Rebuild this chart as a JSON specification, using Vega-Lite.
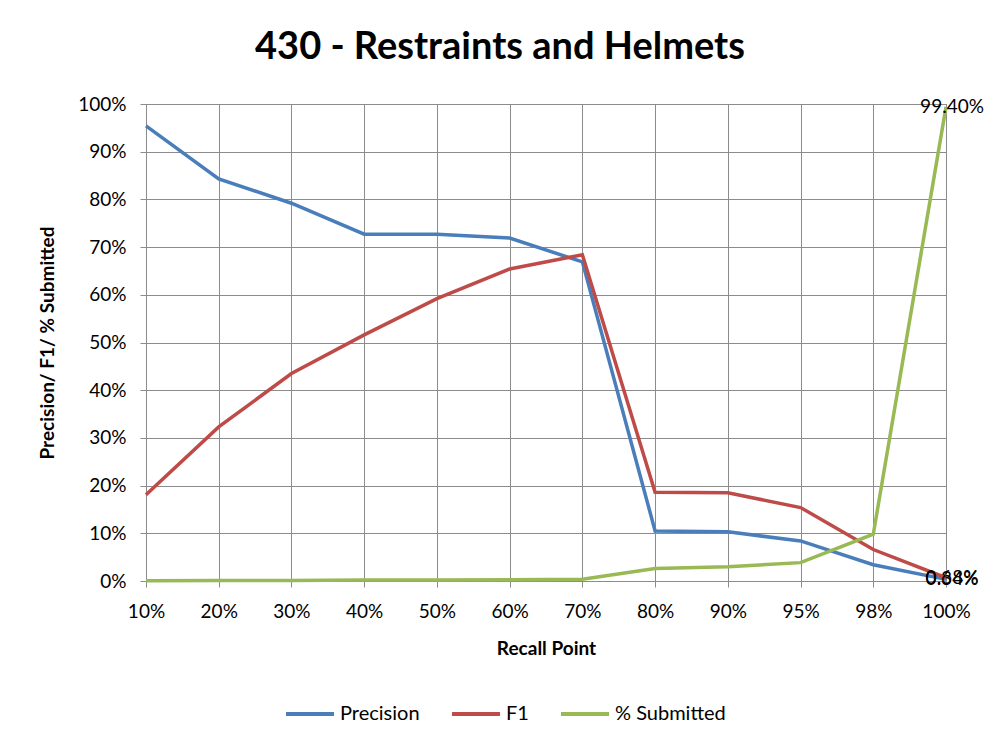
{
  "$schema": "https://vega.github.io/schema/vega-lite/v6.json",
  "autosize": "none",
  "width": 800,
  "height": 477,
  "padding": {"left": 146, "top": 104, "right": 52, "bottom": 164},
  "background": "white",
  "title": {
    "text": "430 - Restraints and Helmets",
    "font": "Lato",
    "fontSize": 38,
    "fontWeight": "bold",
    "color": "black",
    "anchor": "middle",
    "dx": -46,
    "offset": 28
  },
  "data": {
    "values": [
      {"recall": "10%", "series": "Precision", "value": 0.954},
      {"recall": "20%", "series": "Precision", "value": 0.843},
      {"recall": "30%", "series": "Precision", "value": 0.792},
      {"recall": "40%", "series": "Precision", "value": 0.727},
      {"recall": "50%", "series": "Precision", "value": 0.727},
      {"recall": "60%", "series": "Precision", "value": 0.719},
      {"recall": "70%", "series": "Precision", "value": 0.669},
      {"recall": "80%", "series": "Precision", "value": 0.105},
      {"recall": "90%", "series": "Precision", "value": 0.103},
      {"recall": "95%", "series": "Precision", "value": 0.084},
      {"recall": "98%", "series": "Precision", "value": 0.034},
      {"recall": "100%", "series": "Precision", "value": 0.0034},
      {"recall": "10%", "series": "F1", "value": 0.181},
      {"recall": "20%", "series": "F1", "value": 0.323},
      {"recall": "30%", "series": "F1", "value": 0.435},
      {"recall": "40%", "series": "F1", "value": 0.516},
      {"recall": "50%", "series": "F1", "value": 0.592},
      {"recall": "60%", "series": "F1", "value": 0.654},
      {"recall": "70%", "series": "F1", "value": 0.684},
      {"recall": "80%", "series": "F1", "value": 0.186},
      {"recall": "90%", "series": "F1", "value": 0.185},
      {"recall": "95%", "series": "F1", "value": 0.154},
      {"recall": "98%", "series": "F1", "value": 0.066},
      {"recall": "100%", "series": "F1", "value": 0.0068},
      {"recall": "10%", "series": "% Submitted", "value": 0.0004},
      {"recall": "20%", "series": "% Submitted", "value": 0.0008},
      {"recall": "30%", "series": "% Submitted", "value": 0.0013},
      {"recall": "40%", "series": "% Submitted", "value": 0.0019},
      {"recall": "50%", "series": "% Submitted", "value": 0.0023},
      {"recall": "60%", "series": "% Submitted", "value": 0.0028},
      {"recall": "70%", "series": "% Submitted", "value": 0.0036},
      {"recall": "80%", "series": "% Submitted", "value": 0.026},
      {"recall": "90%", "series": "% Submitted", "value": 0.030},
      {"recall": "95%", "series": "% Submitted", "value": 0.0385},
      {"recall": "98%", "series": "% Submitted", "value": 0.098},
      {"recall": "100%", "series": "% Submitted", "value": 0.994}
    ]
  },
  "encoding": {
    "x": {
      "field": "recall",
      "type": "ordinal",
      "sort": null,
      "scale": {"type": "point", "padding": 0},
      "axis": {
        "title": "Recall Point",
        "labelAngle": 0,
        "grid": true,
        "gridColor": "#8c8c8c",
        "domainColor": "#8c8c8c",
        "tickColor": "#8c8c8c",
        "tickSize": 6,
        "labelPadding": 15,
        "labelFont": "Lato",
        "labelFontSize": 19,
        "labelColor": "black",
        "titleFont": "Lato",
        "titleFontSize": 19,
        "titleFontWeight": "bold",
        "titleColor": "black",
        "titlePadding": 18
      }
    },
    "y": {
      "field": "value",
      "type": "quantitative",
      "scale": {"domain": [0, 1], "nice": false},
      "axis": {
        "title": "Precision/ F1/ % Submitted",
        "format": ".0%",
        "values": [0, 0.1, 0.2, 0.3, 0.4, 0.5, 0.6, 0.7, 0.8, 0.9, 1],
        "grid": true,
        "gridColor": "#8c8c8c",
        "domainColor": "#8c8c8c",
        "tickColor": "#8c8c8c",
        "tickSize": 6,
        "labelPadding": 14,
        "labelFont": "Lato",
        "labelFontSize": 19,
        "labelColor": "black",
        "titleFont": "Lato",
        "titleFontSize": 19,
        "titleFontWeight": "bold",
        "titleColor": "black",
        "titlePadding": 20
      }
    },
    "color": {
      "field": "series",
      "type": "nominal",
      "scale": {
        "domain": ["Precision", "F1", "% Submitted"],
        "range": ["#4A7EBB", "#BE4B48", "#98B954"]
      },
      "legend": {
        "title": null,
        "orient": "none",
        "direction": "horizontal",
        "legendX": 138,
        "legendY": 584,
        "symbolType": "stroke",
        "symbolSize": 2300,
        "symbolStrokeWidth": 4,
        "labelFont": "Lato",
        "labelFontSize": 20,
        "labelColor": "black",
        "labelOffset": 4,
        "columnPadding": 24
      }
    }
  },
  "layer": [
    {"transform": [{"filter": "datum.series === 'Precision'"}], "mark": {"type": "line", "strokeWidth": 3.5}},
    {"transform": [{"filter": "datum.series === 'F1'"}], "mark": {"type": "line", "strokeWidth": 3.5}},
    {"transform": [{"filter": "datum.series === '% Submitted'"}], "mark": {"type": "line", "strokeWidth": 3.5}},
    {
      "transform": [{"filter": "datum.recall === '100%'"}],
      "mark": {"type": "text", "font": "Lato", "fontSize": 19, "align": "center", "baseline": "middle", "dx": 6, "color": "black"},
      "encoding": {
        "text": {"field": "value", "type": "quantitative", "format": ".2%"},
        "color": {"value": "black"}
      }
    }
  ],
  "config": {
    "view": {"stroke": "#8c8c8c"}
  }
}
